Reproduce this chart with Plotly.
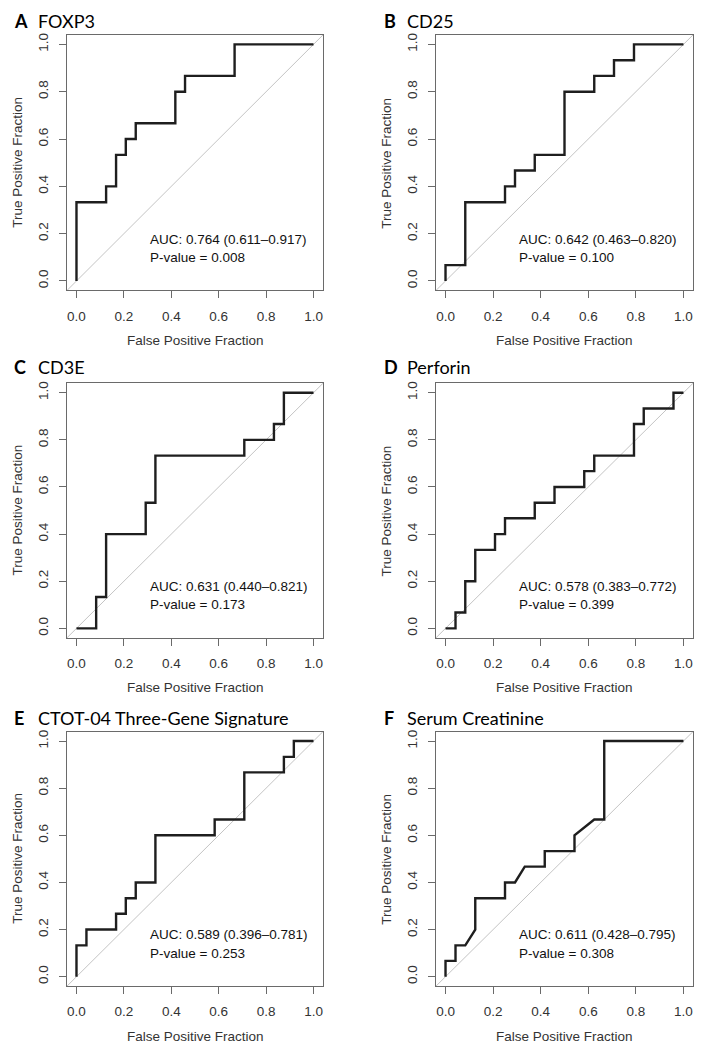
import plotly.graph_objects as go

# ---------------- data ----------------
panel_letters = ["A", "B", "C", "D", "E", "F"]
panel_names = ["FOXP3", "CD25", "CD3E", "Perforin",
               "CTOT-04 Three-Gene Signature", "Serum Creatinine"]
auc_labels = ["AUC: 0.764 (0.611–0.917)", "AUC: 0.642 (0.463–0.820)",
              "AUC: 0.631 (0.440–0.821)", "AUC: 0.578 (0.383–0.772)",
              "AUC: 0.589 (0.396–0.781)", "AUC: 0.611 (0.428–0.795)"]
p_labels = ["P-value = 0.008", "P-value = 0.100", "P-value = 0.173",
            "P-value = 0.399", "P-value = 0.253", "P-value = 0.308"]

foxp3_fpr = [0, 0, 0.125, 0.125, 0.167, 0.167, 0.208, 0.208, 0.25, 0.25,
             0.417, 0.417, 0.458, 0.458, 0.667, 0.667, 1.0]
foxp3_tpr = [0, 0.333, 0.333, 0.4, 0.4, 0.533, 0.533, 0.6, 0.6, 0.667,
             0.667, 0.8, 0.8, 0.867, 0.867, 1.0, 1.0]

cd25_fpr = [0, 0, 0.083, 0.083, 0.25, 0.25, 0.292, 0.292, 0.375, 0.375,
            0.5, 0.5, 0.625, 0.625, 0.708, 0.708, 0.792, 0.792, 1.0]
cd25_tpr = [0, 0.067, 0.067, 0.333, 0.333, 0.4, 0.4, 0.467, 0.467, 0.533,
            0.533, 0.8, 0.8, 0.867, 0.867, 0.933, 0.933, 1.0, 1.0]

cd3e_fpr = [0, 0.083, 0.083, 0.125, 0.125, 0.292, 0.292, 0.333, 0.333,
            0.708, 0.708, 0.833, 0.833, 0.875, 0.875, 1.0]
cd3e_tpr = [0, 0, 0.133, 0.133, 0.4, 0.4, 0.533, 0.533, 0.733,
            0.733, 0.8, 0.8, 0.867, 0.867, 1.0, 1.0]

perforin_fpr = [0, 0.042, 0.042, 0.083, 0.083, 0.125, 0.125, 0.208, 0.208,
                0.25, 0.25, 0.375, 0.375, 0.458, 0.458, 0.583, 0.583, 0.625,
                0.625, 0.792, 0.792, 0.833, 0.833, 0.958, 0.958, 1.0]
perforin_tpr = [0, 0, 0.067, 0.067, 0.2, 0.2, 0.333, 0.333, 0.4,
                0.4, 0.467, 0.467, 0.533, 0.533, 0.6, 0.6, 0.667, 0.667,
                0.733, 0.733, 0.867, 0.867, 0.933, 0.933, 1.0, 1.0]

ctot_fpr = [0, 0, 0.042, 0.042, 0.167, 0.167, 0.208, 0.208, 0.25, 0.25,
            0.333, 0.333, 0.583, 0.583, 0.708, 0.708, 0.875, 0.875, 0.917,
            0.917, 1.0]
ctot_tpr = [0, 0.133, 0.133, 0.2, 0.2, 0.267, 0.267, 0.333, 0.333, 0.4,
            0.4, 0.6, 0.6, 0.667, 0.667, 0.867, 0.867, 0.933, 0.933,
            1.0, 1.0]

creat_fpr = [0, 0, 0.042, 0.042, 0.083, 0.125, 0.125, 0.25, 0.25, 0.292,
             0.333, 0.417, 0.417, 0.542, 0.542, 0.625, 0.667, 0.667, 1.0]
creat_tpr = [0, 0.067, 0.067, 0.133, 0.133, 0.2, 0.333, 0.333, 0.4, 0.4,
             0.467, 0.467, 0.533, 0.533, 0.6, 0.667, 0.667, 1.0, 1.0]

curves_fpr = [foxp3_fpr, cd25_fpr, cd3e_fpr, perforin_fpr, ctot_fpr, creat_fpr]
curves_tpr = [foxp3_tpr, cd25_tpr, cd3e_tpr, perforin_tpr, ctot_tpr, creat_tpr]

tick_vals = [0, 0.2, 0.4, 0.6, 0.8, 1.0]
tick_text = ["0.0", "0.2", "0.4", "0.6", "0.8", "1.0"]

# ---------------- layout ----------------
W, H = 704, 1050
col_dom = [[67 / W, 323 / W], [436 / W, 693 / W]]
row_dom = [[1 - 289 / H, 1 - 33 / H], [1 - 637 / H, 1 - 382 / H], [1 - 986 / H, 1 - 731 / H]]
title_y = [1 - 19 / H, 1 - 366 / H, 1 - 717 / H]
letter_x = [12 / W, 382 / W]
name_x = [36 / W, 405 / W]

BOX = "#6a6a6a"
TICKFONT = dict(family="Arial, Liberation Sans, sans-serif", size=13.5, color="#333333")
TEXTFONT = dict(family="Arial, Liberation Sans, sans-serif", size=13.5, color="#111111")
TITLEFONT = "Lato, Carlito, Calibri, sans-serif"

fig = go.Figure()
layout = dict(width=W, height=H, margin=dict(l=0, r=0, t=0, b=0),
              paper_bgcolor="white", plot_bgcolor="white", showlegend=False)
annotations = []
shapes = []

for i in range(6):
    r, c = divmod(i, 2)
    xa = "xaxis" if i == 0 else f"xaxis{i+1}"
    ya = "yaxis" if i == 0 else f"yaxis{i+1}"
    xr = "x" if i == 0 else f"x{i+1}"
    yr = "y" if i == 0 else f"y{i+1}"
    common = dict(range=[-0.04, 1.04], tickvals=tick_vals, ticktext=tick_text,
                  ticks="outside", ticklen=7, tickwidth=1, tickcolor=BOX,
                  showline=True, linecolor=BOX, linewidth=1, mirror=True,
                  showgrid=False, zeroline=False, tickfont=TICKFONT,
                  fixedrange=True, ticklabelstandoff=6)
    layout[xa] = dict(domain=col_dom[c], anchor=yr, **common)
    layout[ya] = dict(domain=row_dom[r], anchor=xr, tickangle=-90, **common)

    # reference diagonal (abline 0,1)
    shapes.append(dict(type="line", xref=f"{xr} domain", yref=f"{yr} domain",
                       x0=0, y0=0, x1=1, y1=1,
                       line=dict(color="#c4c4c4", width=1), layer="below"))

    fig.add_trace(go.Scatter(x=curves_fpr[i], y=curves_tpr[i], mode="lines",
                             line=dict(color="#1e1e1e", width=2.4),
                             xaxis=xr, yaxis=yr, hoverinfo="skip"))

    annotations.append(dict(x=0.3, y=0.177, xref=xr, yref=yr, text=auc_labels[i],
                            showarrow=False, xanchor="left", yanchor="middle",
                            font=TEXTFONT))
    annotations.append(dict(x=0.3, y=0.1, xref=xr, yref=yr, text=p_labels[i],
                            showarrow=False, xanchor="left", yanchor="middle",
                            font=TEXTFONT))
    # axis titles
    annotations.append(dict(x=0.5, y=0, xref=f"{xr} domain", yref=f"{yr} domain",
                            yshift=-50, text="False Positive Fraction", showarrow=False,
                            xanchor="center", yanchor="middle", font=TICKFONT))
    annotations.append(dict(x=0, y=0.5, xref=f"{xr} domain", yref=f"{yr} domain",
                            xshift=-49, text="True Positive Fraction", showarrow=False,
                            textangle=-90, xanchor="center", yanchor="middle",
                            font=TICKFONT))
    # panel titles
    annotations.append(dict(x=letter_x[c], y=title_y[r], xref="paper", yref="paper",
                            text=f"<b>{panel_letters[i]}</b>", showarrow=False,
                            xanchor="left", yanchor="middle",
                            font=dict(family=TITLEFONT, size=18, color="black")))
    annotations.append(dict(x=name_x[c], y=title_y[r], xref="paper", yref="paper",
                            text=panel_names[i], showarrow=False,
                            xanchor="left", yanchor="middle",
                            font=dict(family=TITLEFONT, size=18, color="black")))

layout["annotations"] = annotations
layout["shapes"] = shapes
fig.update_layout(**layout)
fig.write_html("out.html",
               config={"displayModeBar": False, "staticPlot": True},
               post_script="document.body.style.margin='0';"
                           "document.body.style.padding='0';"
                           "document.documentElement.style.overflow='hidden';")
